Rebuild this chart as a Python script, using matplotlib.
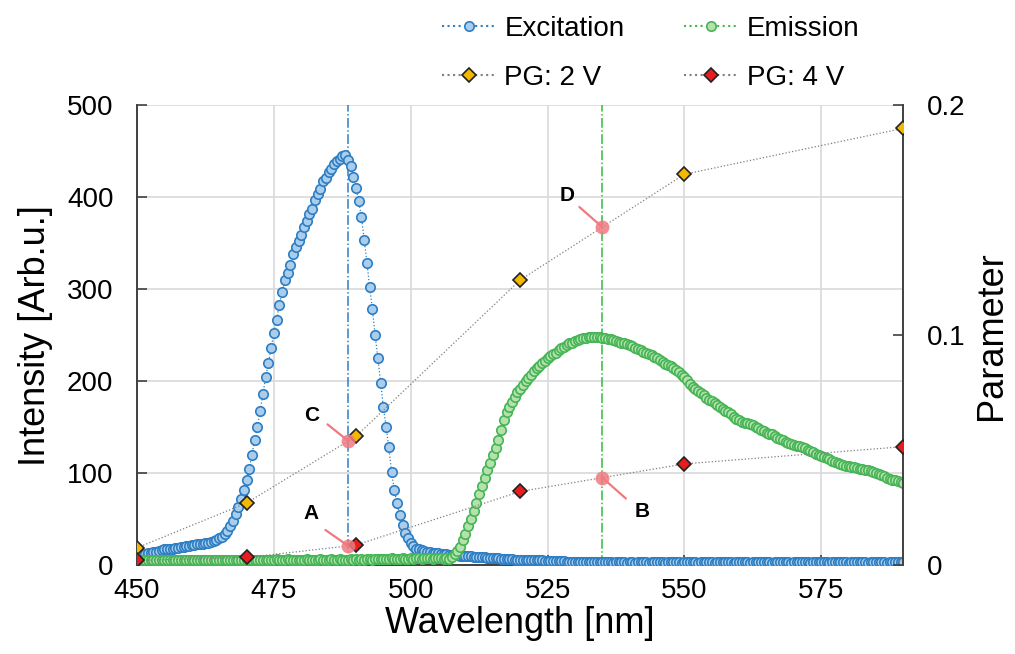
import numpy as np
import matplotlib
matplotlib.use("Agg")
import matplotlib.pyplot as plt
from matplotlib.lines import Line2D

plt.rcParams["font.family"] = ["Liberation Sans", "DejaVu Sans"]

# Scan grid of the spectrometer (nm)
wavelength = np.arange(450.0, 590.01, 0.5)

# Excitation spectrum, one row per 5 nm
excitation = [
    11, 11, 12, 12, 13, 13, 14, 14, 15, 16,
    17, 17, 18, 18, 19, 19, 20, 20, 21, 21,
    22, 22, 23, 23, 23, 24, 24, 25, 26, 27,
    29, 31, 34, 37, 42, 48, 55, 63, 72, 82,
    93, 105, 120, 136, 150, 168, 186, 204, 220, 236,
    252, 267, 283, 297, 310, 318, 326, 338, 346, 352,
    359, 368, 374, 382, 387, 397, 404, 409, 418, 421,
    427, 431, 436, 439, 442, 445, 446, 441, 434, 422,
    410, 396, 378, 354, 329, 302, 278, 250, 225, 198,
    172, 150, 128, 101, 82, 67, 54, 44, 35, 29,
    24, 21, 18, 17, 16, 15, 14, 14, 13, 13,
    13, 12, 12, 12, 11, 11, 11, 11, 10, 10,
    10, 10, 10, 9, 9, 9, 9, 9, 8, 8,
    8, 8, 8, 7, 7, 7, 7, 7, 6, 6,
    6, 6, 6, 5, 5, 5, 5, 5, 5, 4,
    4, 4, 4, 4, 4, 4, 4, 3, 3, 3,
    3, 3, 3, 3, 3, 3, 3, 3, 3, 3,
    3, 3, 3, 3, 2, 3, 3, 3, 3, 2,
    3, 3, 2, 3, 3, 3, 3, 2, 3, 3,
    3, 3, 3, 2, 3, 3, 3, 3, 3, 2,
    3, 3, 3, 3, 3, 2, 3, 3, 3, 3,
    3, 2, 3, 3, 3, 3, 3, 3, 2, 3,
    3, 3, 3, 3, 2, 3, 3, 3, 3, 3,
    3, 3, 2, 3, 3, 3, 3, 3, 3, 2,
    3, 3, 3, 3, 3, 3, 2, 3, 3, 3,
    3, 3, 3, 2, 3, 3, 3, 3, 3, 3,
    2, 3, 3, 3, 3, 3, 3, 2, 3, 3,
    3, 3, 3, 3, 2, 3, 3, 3, 3, 3,
    3,
]

# Emission spectrum, one row per 5 nm
emission = [
    6, 5, 6, 6, 5, 6, 6, 6, 5, 6,
    6, 6, 5, 6, 6, 6, 6, 5, 6, 6,
    6, 6, 6, 5, 6, 6, 6, 6, 6, 5,
    6, 6, 6, 6, 6, 6, 5, 6, 6, 6,
    6, 6, 6, 6, 6, 6, 6, 6, 6, 6,
    6, 7, 6, 6, 6, 7, 6, 6, 6, 6,
    6, 6, 7, 6, 6, 6, 6, 7, 6, 6,
    6, 7, 6, 6, 7, 6, 6, 6, 7, 6,
    7, 6, 7, 6, 7, 7, 6, 7, 7, 7,
    7, 7, 7, 8, 7, 7, 7, 8, 7, 7,
    8, 7, 8, 8, 7, 8, 8, 8, 7, 8,
    8, 8, 7, 8, 7, 9, 12, 15, 20, 27,
    34, 42, 50, 59, 68, 77, 86, 95, 103, 111,
    120, 127, 136, 147, 158, 166, 172, 177, 183, 188,
    192, 196, 200, 203, 207, 211, 214, 217, 220, 222,
    225, 227, 229, 231, 234, 236, 237, 239, 241, 242,
    244, 245, 246, 247, 247, 248, 248, 248, 248, 248,
    247, 247, 246, 246, 245, 244, 243, 242, 241, 240,
    239, 238, 236, 235, 234, 232, 231, 229, 228, 226,
    225, 223, 221, 219, 218, 216, 214, 212, 210, 207,
    204, 201, 197, 194, 191, 189, 187, 185, 182, 180,
    178, 176, 174, 172, 170, 168, 166, 164, 161, 159,
    158, 156, 155, 154, 153, 152, 150, 149, 147, 146,
    144, 143, 142, 140, 138, 137, 136, 134, 133, 132,
    131, 130, 129, 128, 127, 125, 124, 123, 121, 120,
    119, 117, 116, 115, 113, 112, 111, 110, 109, 108,
    108, 107, 107, 106, 105, 104, 103, 103, 102, 101,
    100, 99, 98, 97, 95, 94, 93, 92, 91, 90,
    89,
]

# Parameter values of the two gate settings
pg_wavelength = [450, 470, 490, 520, 550, 590]
pg_2v = [0.0075, 0.027, 0.056, 0.124, 0.170, 0.190]
pg_4v = [0.002, 0.0033, 0.0087, 0.032, 0.044, 0.0515]

# Marked wavelengths: excitation and emission maxima
excitation_line = 488.6
emission_line = 535.0

x_ticks = [450, 475, 500, 525, 550, 575]
y_ticks = [0, 100, 200, 300, 400, 500]
y2_ticks = [0, 0.1, 0.2]
y2_labels = ["0", "0.1", "0.2"]

exc_edge, exc_face = "#2E7EC4", "#A9CDEB"
emi_edge, emi_face = "#45B556", "#B6E0AC"
mark_color = "#F07A80"
spine_color = "#404040"

circle_style = dict(marker="o", markersize=6.8, markeredgewidth=1.2)
diamond_style = dict(marker="D", markersize=7.5, markeredgewidth=1.2,
                     markeredgecolor="#222222")

fig = plt.figure(figsize=(10.15, 6.54), dpi=100)
ax = fig.add_axes([0.135, 0.136, 0.755, 0.703])
ax2 = ax.twinx()

ax.plot(wavelength, excitation, linestyle=":", linewidth=0.9, color=exc_edge,
        markerfacecolor=exc_face, markeredgecolor=exc_edge, zorder=3,
        **circle_style)
ax.plot(wavelength, emission, linestyle=":", linewidth=0.9, color=emi_edge,
        markerfacecolor=emi_face, markeredgecolor=emi_edge, zorder=3,
        **circle_style)

ax.axvline(excitation_line, color=exc_edge, linestyle="-.", linewidth=1.1, zorder=2)
ax.axvline(emission_line, color="#2DBF3C", linestyle="-.", linewidth=1.1, zorder=2)

ax.set_xlim(450, 590)
ax.set_ylim(0, 500)
ax.set_xticks(x_ticks)
ax.set_yticks(y_ticks)
ax.grid(True, color="#D9D9D9", linewidth=1.2)
ax.set_axisbelow(True)
ax.tick_params(direction="in", length=7, width=1.2, color=spine_color,
               labelsize=20)
ax.tick_params(axis="y", pad=17)
ax.tick_params(axis="x", pad=9)
for side in ("left", "bottom"):
    ax.spines[side].set_color(spine_color)
    ax.spines[side].set_linewidth(1.4)
ax.spines["top"].set_visible(False)
ax.spines["right"].set_visible(False)
ax.set_xlabel("Wavelength [nm]", fontsize=26, labelpad=2)
ax.set_ylabel("Intensity [Arb.u.]", fontsize=26, labelpad=10)

ax2.plot(pg_wavelength, pg_2v, linestyle=":", linewidth=0.9, color="#7F7F7F",
         markerfacecolor="#F5B800", zorder=4, **diamond_style)
ax2.plot(pg_wavelength, pg_4v, linestyle=":", linewidth=0.9, color="#7F7F7F",
         markerfacecolor="#E81C1C", zorder=4, **diamond_style)
ax2.set_ylim(0, 0.2)
ax2.set_yticks(y2_ticks)
ax2.set_yticklabels(y2_labels)
ax2.tick_params(direction="in", length=7, width=1.2, color=spine_color,
                labelsize=20, pad=17)
ax2.spines["right"].set_color(spine_color)
ax2.spines["right"].set_linewidth(1.4)
ax2.spines["top"].set_visible(False)
ax2.spines["left"].set_visible(False)
ax2.spines["bottom"].set_visible(False)
ax2.set_ylabel("Parameter", fontsize=26, labelpad=6)

# Crossing points of the marked wavelengths with the parameter curves
marks = {
    "A": (excitation_line, np.interp(excitation_line, pg_wavelength, pg_4v), (-16.5, 11.5), (-26.5, 23)),
    "C": (excitation_line, np.interp(excitation_line, pg_wavelength, pg_2v), (-15, 12), (-26.5, 18)),
    "D": (emission_line, np.interp(emission_line, pg_wavelength, pg_2v), (-16.5, 14.5), (-25, 23)),
    "B": (emission_line, np.interp(emission_line, pg_wavelength, pg_4v), (17, -15), (29, -24.5)),
}
for name, (mx, my, line_off, text_off) in marks.items():
    ax2.annotate("", xy=(mx, my), xytext=line_off, textcoords="offset points",
                 arrowprops=dict(arrowstyle="-", color=mark_color, lw=1.6,
                                 shrinkA=0, shrinkB=0), zorder=5)
    ax2.plot([mx], [my], marker="o", markersize=10, color=mark_color,
             alpha=0.85, markeredgewidth=0, zorder=6)
    ax2.annotate(name, xy=(mx, my), xytext=text_off, textcoords="offset points",
                 ha="center", va="center", fontsize=15, fontweight="bold",
                 zorder=7)

handles = [
    Line2D([], [], linestyle=":", color=exc_edge, markerfacecolor=exc_face,
           markeredgecolor=exc_edge, **circle_style),
    Line2D([], [], linestyle=":", color="#7F7F7F", markerfacecolor="#F5B800",
           **diamond_style),
    Line2D([], [], linestyle=":", color=emi_edge, markerfacecolor=emi_face,
           markeredgecolor=emi_edge, **circle_style),
    Line2D([], [], linestyle=":", color="#7F7F7F", markerfacecolor="#E81C1C",
           **diamond_style),
]
labels = ["Excitation", "PG: 2 V", "Emission", "PG: 4 V"]
fig.legend(handles, labels, loc="upper center", bbox_to_anchor=(0.641, 0.997),
           ncol=2, frameon=False, fontsize=20, handlelength=1.95,
           handletextpad=0.3, columnspacing=2.15, labelspacing=0.82,
           borderaxespad=0.1)

fig.savefig("out.png", dpi=100)
